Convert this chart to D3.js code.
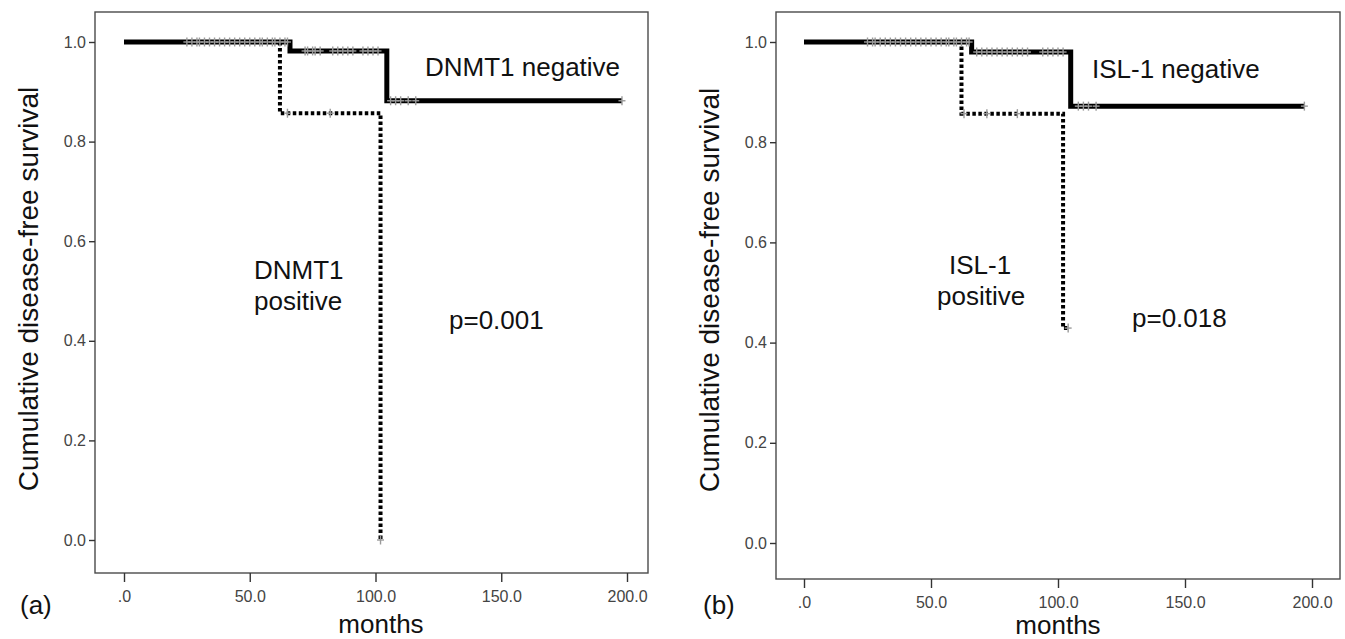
<!DOCTYPE html>
<html>
<head>
<meta charset="utf-8">
<script src="https://cdn.jsdelivr.net/npm/d3@7"></script>
<style>
  html, body { margin: 0; padding: 0; background: #fff; }
  svg { display: block; }
</style>
</head>
<body>
<svg id="chart" width="1345" height="639"></svg>
<script>
// ---------- data ----------
const xTickValues = [0, 50, 100, 150, 200];
const xTickLabels = [".0", "50.0", "100.0", "150.0", "200.0"];
const yTickValues = [0, 0.2, 0.4, 0.6, 0.8, 1.0];
const yTickLabels = ["0.0", "0.2", "0.4", "0.6", "0.8", "1.0"];

// Panel (a): DNMT1
const dnmtNegTimes = [0, 66, 104.5, 198];
const dnmtNegSurv  = [1.0, 0.982, 0.882, 0.882];
const dnmtPosTimes = [0, 62, 102, 102];
const dnmtPosSurv  = [1.0, 0.857, 0.0, 0.0];
const dnmtNegCensor = [25, 27, 29, 30, 32, 34, 36, 38, 40, 42, 44, 46, 48, 50, 52, 54, 55, 57, 59, 60, 62, 64, 65,
                       72, 73, 75, 76, 78, 83, 85, 87, 89, 91, 95, 97, 99, 101,
                       106, 108, 110, 113, 116, 198];
const dnmtPosCensor = [65, 82, 102];

// Panel (b): ISL-1
const islNegTimes = [0, 66, 105, 197];
const islNegSurv  = [1.0, 0.98, 0.872, 0.872];
const islPosTimes = [0, 62, 102, 104];
const islPosSurv  = [1.0, 0.857, 0.429, 0.429];
const islNegCensor = [25, 27, 28, 30, 32, 34, 36, 38, 40, 42, 44, 46, 48, 50, 52, 54, 56, 57, 59, 60, 62, 64, 65,
                      68, 70, 72, 74, 76, 78, 80, 82, 84, 86, 88, 94, 96, 98, 100, 102,
                      108, 110, 112, 115, 197];
const islPosCensor = [63, 72, 84, 104];

// ---------- drawing ----------
const svg = d3.select("#chart");
const FONT = "'Liberation Sans', Arial, Helvetica, sans-serif";
const TICKFONT = "'Liberation Sans Narrow', 'Arial Narrow', 'Liberation Sans', Arial, sans-serif";

function stepValue(times, surv, t) {
  let v = surv[0];
  for (let i = 0; i < times.length; i++) { if (times[i] <= t) v = surv[i]; }
  return v;
}

function drawPanel(p) {
  const g = svg.append("g");
  const x = d3.scaleLinear().domain([0, 200]).range([p.x0, p.x200]);
  const y = d3.scaleLinear().domain([0, 1]).range([p.y0, p.y1]);

  // frame
  g.append("rect")
    .attr("x", p.box.l).attr("y", p.box.t)
    .attr("width", p.box.r - p.box.l).attr("height", p.box.b - p.box.t)
    .attr("fill", "none").attr("stroke", "#4a4a4a").attr("stroke-width", 1.4);

  // x axis
  const xAxis = d3.axisBottom(x).tickValues(xTickValues)
    .tickFormat((d, i) => xTickLabels[i]).tickSize(9).tickPadding(9);
  const gx = g.append("g").attr("transform", `translate(0,${p.box.b})`).call(xAxis);
  gx.select(".domain").remove();
  gx.selectAll(".tick line").attr("stroke", "#333").attr("stroke-width", 1.4);
  gx.selectAll(".tick text").attr("font-family", TICKFONT).attr("font-size", 16).attr("fill", "#444");

  // y axis
  const yAxis = d3.axisLeft(y).tickValues(yTickValues)
    .tickFormat((d, i) => yTickLabels[i]).tickSize(6).tickPadding(3);
  const gy = g.append("g").attr("transform", `translate(${p.box.l},0)`).call(yAxis);
  gy.select(".domain").remove();
  gy.selectAll(".tick line").attr("stroke", "#333").attr("stroke-width", 1.4);
  gy.selectAll(".tick text").attr("font-family", TICKFONT).attr("font-size", 16).attr("fill", "#444");

  const line = d3.line().x(d => x(d[0])).y(d => y(d[1])).curve(d3.curveStepAfter);

  // positive (dotted)
  g.append("path")
    .datum(p.posTimes.map((t, i) => [t, p.posSurv[i]]))
    .attr("d", line).attr("fill", "none").attr("stroke", "#000")
    .attr("stroke-width", 4).attr("stroke-dasharray", "3.5,2.5");

  // negative (solid)
  g.append("path")
    .datum(p.negTimes.map((t, i) => [t, p.negSurv[i]]))
    .attr("d", line).attr("fill", "none").attr("stroke", "#000")
    .attr("stroke-width", 5);

  // censor marks
  function censor(times, st, ss) {
    const cg = g.append("g");
    times.forEach(t => {
      const cx = x(t), cy = y(stepValue(st, ss, t));
      cg.append("line").attr("x1", cx).attr("x2", cx).attr("y1", cy - 4.5).attr("y2", cy + 4.5)
        .attr("stroke", "#9a9a9a").attr("stroke-width", 1.4);
      cg.append("line").attr("x1", cx - 3.5).attr("x2", cx + 3.5).attr("y1", cy).attr("y2", cy)
        .attr("stroke", "#9a9a9a").attr("stroke-width", 1.4);
    });
  }
  censor(p.negCensor, p.negTimes, p.negSurv);
  censor(p.posCensor, p.posTimes, p.posSurv);

  // texts
  const txt = (s, tx, ty, size, anchor) => g.append("text").attr("x", tx).attr("y", ty)
    .attr("font-family", FONT).attr("font-size", size).attr("fill", "#111")
    .attr("text-anchor", anchor || "start").text(s);

  g.append("text")
    .attr("transform", `translate(${p.ylab.x},${p.ylab.y}) rotate(-90)`)
    .attr("text-anchor", "middle").attr("font-family", FONT).attr("font-size", 28).attr("fill", "#111")
    .text("Cumulative disease-free survival");
  txt("months", p.xlab.x, p.xlab.y, 26, "middle");
  txt(p.panelLabel, p.plab.x, p.plab.y, 26);
  txt(p.negLabel, p.negPos.x, p.negPos.y, 26);
  txt(p.posLabel1, p.posPos.x, p.posPos.y, 26);
  txt("positive", p.posPos.x2, p.posPos.y + 31, 26);
  txt(p.pval, p.pPos.x, p.pPos.y, 26);
}

drawPanel({
  box: { l: 95, r: 648, t: 12, b: 573 },
  x0: 124, x200: 627, y0: 540, y1: 42,
  negTimes: dnmtNegTimes, negSurv: dnmtNegSurv, posTimes: dnmtPosTimes, posSurv: dnmtPosSurv,
  negCensor: dnmtNegCensor, posCensor: dnmtPosCensor,
  ylab: { x: 38, y: 289 }, xlab: { x: 381, y: 633 }, plab: { x: 20, y: 614 },
  panelLabel: "(a)", negLabel: "DNMT1 negative", negPos: { x: 425, y: 76 },
  posLabel1: "DNMT1", posPos: { x: 254, y: 279, x2: 254 },
  pval: "p=0.001", pPos: { x: 449, y: 329 }
});

drawPanel({
  box: { l: 776, r: 1340, t: 12, b: 579 },
  x0: 804, x200: 1312, y0: 543, y1: 42,
  negTimes: islNegTimes, negSurv: islNegSurv, posTimes: islPosTimes, posSurv: islPosSurv,
  negCensor: islNegCensor, posCensor: islPosCensor,
  ylab: { x: 719, y: 290 }, xlab: { x: 1058, y: 634 }, plab: { x: 703, y: 614 },
  panelLabel: "(b)", negLabel: "ISL-1 negative", negPos: { x: 1092, y: 78 },
  posLabel1: "ISL-1", posPos: { x: 949, y: 274, x2: 937 },
  pval: "p=0.018", pPos: { x: 1132, y: 327 }
});
</script>
</body>
</html>
